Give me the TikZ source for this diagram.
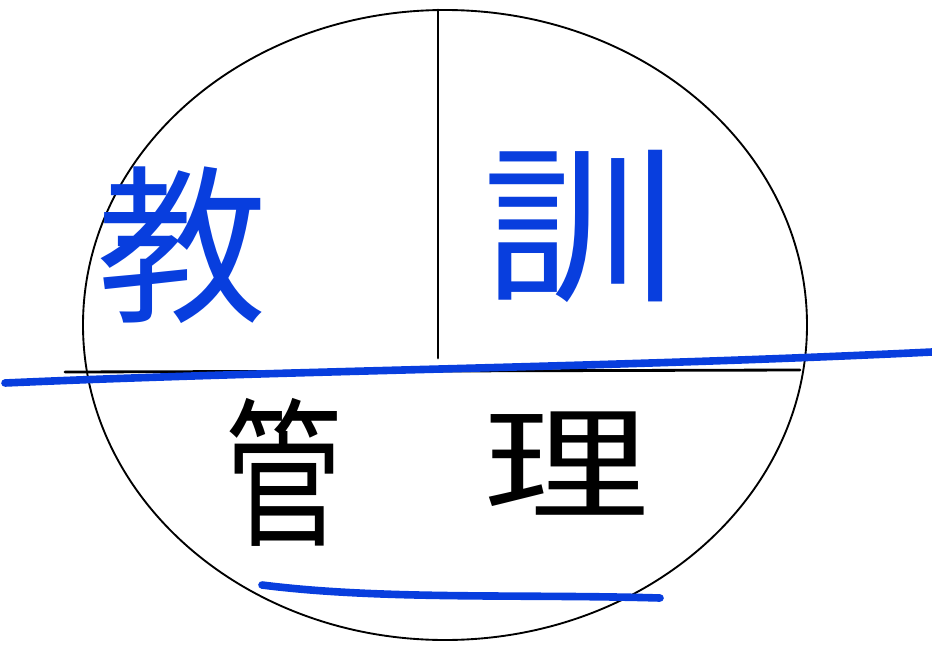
\documentclass[tikz,border=0pt]{standalone}
\usepackage{fontspec}
\newfontfamily\cjk{Noto Sans CJK JP}
\usetikzlibrary{positioning}
\definecolor{sblue}{RGB}{8,62,222}

\begin{document}
\begin{tikzpicture}[x=0.03cm,y=-0.03cm,
  ink/.style={draw=black,line width=1.6pt,line cap=round},
  pen/.style={draw=sblue,line width=6.5pt,line cap=round},
  bigchar/.style={font=\cjk\fontsize{145}{145}\selectfont,text=sblue,inner sep=0pt},
  smallchar/.style={font=\cjk\fontsize{105}{105}\selectfont,text=black,inner sep=0pt}]
\useasboundingbox (0,0) rectangle (932,650);
% circle split in quarters
\draw[ink] (445,325) ellipse [x radius=362,y radius=315];
\coordinate (top) at (438,10);
\coordinate (mid) at (438,358);
\draw[ink,line width=2.4pt] (top)--(mid);
\coordinate (dl) at (65,372);
\coordinate (dr) at (800,370);
\draw[ink,line width=2.4pt] (dl)--(dr);
% blue strokes
\coordinate (bl) at (5,383);
\coordinate (br) at (932,352);
\draw[pen] (bl) .. controls (300,370) and (600,368) .. (br);
\coordinate (ul) at (262,585);
\coordinate (ur) at (660,598);
\draw[pen] (ul) .. controls (380,600) and (520,594) .. (ur);
% labels
\node[bigchar] (jiao) at (182,245) {教};
\node[bigchar,xscale=1.15] (xun) at (580,226) {訓};
\node[smallchar,yscale=1.3,xscale=0.95] (guan) at (284,472) {管};
\node[smallchar,xscale=1.35] (li) at (567,464) {理};
\end{tikzpicture}
\end{document}
